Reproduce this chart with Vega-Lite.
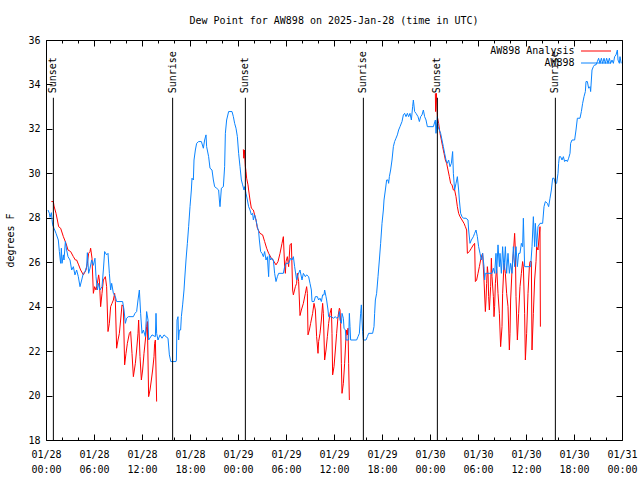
{
  "$schema": "https://vega.github.io/schema/vega-lite/v6.json",
  "width": 576,
  "height": 400,
  "autosize": {"type": "none"},
  "padding": {"left": 46, "top": 40, "right": 18, "bottom": 40},
  "title": {"text": "Dew Point for AW898 on 2025-Jan-28 (time in UTC)", "font": "DejaVu Sans Mono", "fontSize": 10, "fontWeight": "normal", "color": "#000", "anchor": "middle", "frame": "group", "baseline": "alphabetic", "offset": 1},
  "config": {
    "view": {"stroke": "#000", "strokeWidth": 1},
    "font": "DejaVu Sans Mono",
    "axis": {"labelFont": "DejaVu Sans Mono", "labelFontSize": 10, "labelColor": "#000", "tickColor": "#000", "domain": false, "grid": false, "titleFont": "DejaVu Sans Mono", "titleFontSize": 10, "titleFontWeight": "normal", "titleColor": "#000", "labelOverlap": false, "labelFlush": false, "labelBound": false},
    "legend": {"orient": "none", "legendX": 544.5, "legendY": 5.5, "symbolType": "M-3,0H3", "symbolSize": 100, "symbolStrokeWidth": 1, "labelFont": "DejaVu Sans Mono", "labelFontSize": 10, "labelColor": "#000", "labelAlign": "right", "labelOffset": -27, "rowPadding": 1, "padding": 0, "labelLimit": 0}
  },
  "datasets": {
    "events": [
      {"h": 0.92, "label": "Sunset"}, {"h": 15.83, "label": "Sunrise"},
      {"h": 24.92, "label": "Sunset"}, {"h": 39.67, "label": "Sunrise"},
      {"h": 48.92, "label": "Sunset"}, {"h": 63.67, "label": "Sunrise"}
    ],
    "analysis": [
      {"seg":1,"h":0.67,"dp":28.73},{"seg":1,"h":0.92,"dp":28.73},{"seg":1,"h":1.0,"dp":28.53},{"seg":1,"h":1.25,"dp":28.2},{"seg":1,"h":1.42,"dp":27.9},{"seg":1,"h":1.58,"dp":27.6},{"seg":1,"h":1.83,"dp":27.53},{"seg":1,"h":2.17,"dp":27.15},{"seg":1,"h":2.5,"dp":26.85},{"seg":1,"h":2.75,"dp":26.55},{"seg":1,"h":3.08,"dp":26.48},{"seg":1,"h":3.42,"dp":26.25},{"seg":1,"h":3.67,"dp":26.1},{"seg":1,"h":3.83,"dp":26.1},{"seg":1,"h":4.08,"dp":25.88},{"seg":1,"h":4.33,"dp":25.65},{"seg":1,"h":4.67,"dp":25.43},{"seg":1,"h":5.0,"dp":25.65},{"seg":1,"h":5.17,"dp":25.95},{"seg":1,"h":5.33,"dp":26.4},{"seg":1,"h":5.5,"dp":26.48},{"seg":1,"h":5.58,"dp":26.63},{"seg":1,"h":5.75,"dp":26.18},{"seg":1,"h":5.92,"dp":24.6},{"seg":1,"h":6.08,"dp":24.9},{"seg":1,"h":6.25,"dp":24.75},{"seg":1,"h":6.42,"dp":25.05},{"seg":1,"h":6.58,"dp":25.43},{"seg":1,"h":6.67,"dp":25.2},{"seg":1,"h":6.83,"dp":24.0},{"seg":1,"h":7.0,"dp":24.6},{"seg":1,"h":7.17,"dp":25.2},{"seg":1,"h":7.42,"dp":25.35},{"seg":1,"h":7.58,"dp":24.9},{"seg":1,"h":7.75,"dp":22.88},{"seg":1,"h":7.92,"dp":23.25},{"seg":1,"h":8.08,"dp":24.0},{"seg":1,"h":8.25,"dp":24.15},{"seg":1,"h":8.42,"dp":24.3},{"seg":1,"h":8.58,"dp":24.6},{"seg":1,"h":8.67,"dp":24.23},{"seg":1,"h":8.83,"dp":22.13},{"seg":1,"h":9.0,"dp":22.5},{"seg":1,"h":9.17,"dp":22.8},{"seg":1,"h":9.33,"dp":23.4},{"seg":1,"h":9.5,"dp":24.08},{"seg":1,"h":9.67,"dp":24.0},{"seg":1,"h":9.83,"dp":21.38},{"seg":1,"h":10.0,"dp":21.9},{"seg":1,"h":10.17,"dp":22.35},{"seg":1,"h":10.42,"dp":22.8},{"seg":1,"h":10.58,"dp":22.88},{"seg":1,"h":10.75,"dp":21.9},{"seg":1,"h":10.92,"dp":20.85},{"seg":1,"h":11.17,"dp":21.45},{"seg":1,"h":11.33,"dp":22.05},{"seg":1,"h":11.5,"dp":22.8},{"seg":1,"h":11.58,"dp":23.4},{"seg":1,"h":11.75,"dp":21.75},{"seg":1,"h":11.92,"dp":20.7},{"seg":1,"h":12.08,"dp":21.15},{"seg":1,"h":12.25,"dp":21.9},{"seg":1,"h":12.42,"dp":22.5},{"seg":1,"h":12.58,"dp":23.1},{"seg":1,"h":12.67,"dp":23.33},{"seg":1,"h":12.83,"dp":19.95},{"seg":1,"h":13.0,"dp":20.25},{"seg":1,"h":13.17,"dp":20.7},{"seg":1,"h":13.33,"dp":21.15},{"seg":1,"h":13.5,"dp":21.75},{"seg":1,"h":13.58,"dp":22.35},{"seg":1,"h":13.67,"dp":22.5},{"seg":1,"h":13.75,"dp":21.15},{"seg":1,"h":13.83,"dp":19.73},
      {"seg":2,"h":24.67,"dp":31.08},{"seg":2,"h":24.72,"dp":30.68},{"seg":2,"h":24.8,"dp":31.05},{"seg":2,"h":24.92,"dp":30.3},{"seg":2,"h":25.0,"dp":30.08},{"seg":2,"h":25.08,"dp":29.78},{"seg":2,"h":25.25,"dp":29.48},{"seg":2,"h":25.33,"dp":29.25},{"seg":2,"h":25.5,"dp":28.8},{"seg":2,"h":25.67,"dp":28.43},{"seg":2,"h":25.92,"dp":28.35},{"seg":2,"h":26.08,"dp":28.13},{"seg":2,"h":26.25,"dp":27.9},{"seg":2,"h":26.42,"dp":27.53},{"seg":2,"h":26.75,"dp":27.3},{"seg":2,"h":27.08,"dp":27.23},{"seg":2,"h":27.33,"dp":26.93},{"seg":2,"h":27.58,"dp":26.63},{"seg":2,"h":27.83,"dp":26.4},{"seg":2,"h":28.17,"dp":26.18},{"seg":2,"h":28.5,"dp":26.03},{"seg":2,"h":28.75,"dp":25.88},{"seg":2,"h":29.0,"dp":26.03},{"seg":2,"h":29.25,"dp":26.4},{"seg":2,"h":29.5,"dp":26.85},{"seg":2,"h":29.67,"dp":27.15},{"seg":2,"h":29.83,"dp":25.8},{"seg":2,"h":29.92,"dp":25.5},{"seg":2,"h":30.0,"dp":26.03},{"seg":2,"h":30.17,"dp":26.25},{"seg":2,"h":30.33,"dp":25.8},{"seg":2,"h":30.5,"dp":26.78},{"seg":2,"h":30.67,"dp":26.85},{"seg":2,"h":30.83,"dp":24.75},{"seg":2,"h":30.92,"dp":24.53},{"seg":2,"h":31.17,"dp":24.9},{"seg":2,"h":31.33,"dp":25.05},{"seg":2,"h":31.42,"dp":25.5},{"seg":2,"h":31.58,"dp":25.13},{"seg":2,"h":31.75,"dp":23.6},{"seg":2,"h":31.92,"dp":23.85},{"seg":2,"h":32.17,"dp":24.15},{"seg":2,"h":32.42,"dp":24.6},{"seg":2,"h":32.58,"dp":24.9},{"seg":2,"h":32.67,"dp":24.6},{"seg":2,"h":32.75,"dp":22.73},{"seg":2,"h":32.92,"dp":22.95},{"seg":2,"h":33.08,"dp":23.25},{"seg":2,"h":33.33,"dp":23.7},{"seg":2,"h":33.5,"dp":24.15},{"seg":2,"h":33.67,"dp":23.85},{"seg":2,"h":33.83,"dp":22.65},{"seg":2,"h":34.0,"dp":21.9},{"seg":2,"h":34.08,"dp":22.43},{"seg":2,"h":34.25,"dp":22.8},{"seg":2,"h":34.42,"dp":23.4},{"seg":2,"h":34.58,"dp":24.15},{"seg":2,"h":34.67,"dp":23.7},{"seg":2,"h":34.83,"dp":21.6},{"seg":2,"h":35.0,"dp":22.05},{"seg":2,"h":35.17,"dp":22.65},{"seg":2,"h":35.33,"dp":23.25},{"seg":2,"h":35.5,"dp":23.7},{"seg":2,"h":35.67,"dp":23.93},{"seg":2,"h":35.75,"dp":22.8},{"seg":2,"h":35.83,"dp":20.93},{"seg":2,"h":36.0,"dp":21.3},{"seg":2,"h":36.17,"dp":22.05},{"seg":2,"h":36.33,"dp":22.8},{"seg":2,"h":36.5,"dp":23.55},{"seg":2,"h":36.67,"dp":23.93},{"seg":2,"h":36.75,"dp":23.85},{"seg":2,"h":36.83,"dp":23.25},{"seg":2,"h":36.92,"dp":21.45},{"seg":2,"h":37.0,"dp":20.1},{"seg":2,"h":37.17,"dp":20.55},{"seg":2,"h":37.33,"dp":21.45},{"seg":2,"h":37.5,"dp":22.65},{"seg":2,"h":37.58,"dp":22.95},{"seg":2,"h":37.67,"dp":22.73},{"seg":2,"h":37.75,"dp":23.03},{"seg":2,"h":37.83,"dp":21.45},{"seg":2,"h":37.92,"dp":19.8},
      {"seg":3,"h":48.67,"dp":33.6},{"seg":3,"h":48.7,"dp":32.78},{"seg":3,"h":48.8,"dp":33.6},{"seg":3,"h":48.92,"dp":32.55},{"seg":3,"h":49.08,"dp":32.25},{"seg":3,"h":49.25,"dp":31.8},{"seg":3,"h":49.42,"dp":31.5},{"seg":3,"h":49.58,"dp":31.2},{"seg":3,"h":49.75,"dp":30.9},{"seg":3,"h":49.92,"dp":30.6},{"seg":3,"h":50.08,"dp":30.45},{"seg":3,"h":50.25,"dp":30.15},{"seg":3,"h":50.42,"dp":29.85},{"seg":3,"h":50.58,"dp":29.55},{"seg":3,"h":50.75,"dp":29.48},{"seg":3,"h":50.92,"dp":29.25},{"seg":3,"h":51.08,"dp":29.25},{"seg":3,"h":51.25,"dp":28.95},{"seg":3,"h":51.42,"dp":28.5},{"seg":3,"h":51.58,"dp":28.2},{"seg":3,"h":51.75,"dp":28.05},{"seg":3,"h":52.0,"dp":27.9},{"seg":3,"h":52.25,"dp":27.75},{"seg":3,"h":52.42,"dp":27.6},{"seg":3,"h":52.58,"dp":27.45},{"seg":3,"h":52.67,"dp":26.4},{"seg":3,"h":52.92,"dp":26.48},{"seg":3,"h":53.17,"dp":26.63},{"seg":3,"h":53.42,"dp":26.78},{"seg":3,"h":53.58,"dp":26.85},{"seg":3,"h":53.67,"dp":25.13},{"seg":3,"h":53.83,"dp":25.2},{"seg":3,"h":54.0,"dp":25.5},{"seg":3,"h":54.17,"dp":25.8},{"seg":3,"h":54.33,"dp":26.1},{"seg":3,"h":54.5,"dp":26.33},{"seg":3,"h":54.58,"dp":26.4},{"seg":3,"h":54.75,"dp":25.2},{"seg":3,"h":54.92,"dp":23.78},{"seg":3,"h":55.0,"dp":24.3},{"seg":3,"h":55.08,"dp":25.05},{"seg":3,"h":55.17,"dp":25.8},{"seg":3,"h":55.25,"dp":25.5},{"seg":3,"h":55.33,"dp":24.45},{"seg":3,"h":55.42,"dp":23.85},{"seg":3,"h":55.58,"dp":24.9},{"seg":3,"h":55.67,"dp":26.18},{"seg":3,"h":55.75,"dp":25.35},{"seg":3,"h":55.92,"dp":24.45},{"seg":3,"h":56.0,"dp":23.55},{"seg":3,"h":56.08,"dp":24.0},{"seg":3,"h":56.17,"dp":25.05},{"seg":3,"h":56.33,"dp":25.8},{"seg":3,"h":56.5,"dp":24.6},{"seg":3,"h":56.67,"dp":23.7},{"seg":3,"h":56.83,"dp":22.2},{"seg":3,"h":57.0,"dp":23.1},{"seg":3,"h":57.08,"dp":24.6},{"seg":3,"h":57.25,"dp":25.95},{"seg":3,"h":57.42,"dp":25.5},{"seg":3,"h":57.58,"dp":24.6},{"seg":3,"h":57.75,"dp":24.0},{"seg":3,"h":57.92,"dp":22.05},{"seg":3,"h":58.0,"dp":22.8},{"seg":3,"h":58.08,"dp":24.3},{"seg":3,"h":58.25,"dp":25.65},{"seg":3,"h":58.42,"dp":26.4},{"seg":3,"h":58.58,"dp":27.3},{"seg":3,"h":58.67,"dp":26.55},{"seg":3,"h":58.75,"dp":24.45},{"seg":3,"h":58.92,"dp":22.5},{"seg":3,"h":59.08,"dp":23.7},{"seg":3,"h":59.25,"dp":24.9},{"seg":3,"h":59.42,"dp":25.5},{"seg":3,"h":59.58,"dp":26.03},{"seg":3,"h":59.67,"dp":25.8},{"seg":3,"h":59.83,"dp":23.7},{"seg":3,"h":59.92,"dp":21.6},{"seg":3,"h":60.08,"dp":22.8},{"seg":3,"h":60.25,"dp":24.6},{"seg":3,"h":60.42,"dp":25.8},{"seg":3,"h":60.5,"dp":26.03},{"seg":3,"h":60.67,"dp":26.03},{"seg":3,"h":60.75,"dp":22.05},{"seg":3,"h":60.92,"dp":23.7},{"seg":3,"h":61.08,"dp":25.2},{"seg":3,"h":61.25,"dp":26.03},{"seg":3,"h":61.33,"dp":26.7},{"seg":3,"h":61.5,"dp":26.55},{"seg":3,"h":61.75,"dp":27.6},{"seg":3,"h":61.8,"dp":23.1}
    ],
    "obs": [
      {"h":0.25,"dp":28.35},{"h":0.42,"dp":28.2},{"h":0.5,"dp":28.02},{"h":0.67,"dp":28.23},{"h":0.75,"dp":27.93},{"h":0.83,"dp":27.68},{"h":1.0,"dp":27.53},{"h":1.25,"dp":27.3},{"h":1.54,"dp":27.0},{"h":1.67,"dp":26.48},{"h":1.83,"dp":25.95},{"h":1.92,"dp":26.63},{"h":2.0,"dp":25.95},{"h":2.17,"dp":26.33},{"h":2.25,"dp":26.1},{"h":2.42,"dp":26.93},{"h":2.58,"dp":26.55},{"h":2.75,"dp":26.25},{"h":3.0,"dp":26.1},{"h":3.21,"dp":25.65},{"h":3.42,"dp":25.8},{"h":3.62,"dp":25.43},{"h":3.83,"dp":25.65},{"h":4.04,"dp":25.35},{"h":4.25,"dp":24.9},{"h":4.46,"dp":25.2},{"h":4.67,"dp":25.5},{"h":4.88,"dp":25.58},{"h":5.08,"dp":25.8},{"h":5.17,"dp":26.43},{"h":5.33,"dp":25.5},{"h":5.5,"dp":25.73},{"h":5.71,"dp":26.1},{"h":5.92,"dp":25.86},{"h":6.12,"dp":26.18},{"h":6.25,"dp":25.35},{"h":6.42,"dp":24.75},{"h":6.58,"dp":25.05},{"h":6.75,"dp":24.75},{"h":7.0,"dp":24.9},{"h":7.17,"dp":25.65},{"h":7.33,"dp":26.48},{"h":7.58,"dp":26.33},{"h":7.75,"dp":26.4},{"h":7.92,"dp":25.5},{"h":8.08,"dp":24.75},{"h":8.21,"dp":25.05},{"h":8.42,"dp":24.6},{"h":8.67,"dp":24.45},{"h":8.83,"dp":24.23},{"h":9.58,"dp":24.23},{"h":9.75,"dp":23.85},{"h":9.92,"dp":23.25},{"h":10.08,"dp":23.48},{"h":10.29,"dp":23.55},{"h":10.92,"dp":23.55},{"h":11.12,"dp":23.7},{"h":11.33,"dp":23.78},{"h":11.5,"dp":24.3},{"h":11.67,"dp":24.75},{"h":11.83,"dp":23.7},{"h":12.0,"dp":22.8},{"h":12.17,"dp":22.95},{"h":12.42,"dp":22.65},{"h":12.58,"dp":23.78},{"h":12.75,"dp":23.4},{"h":12.83,"dp":22.5},{"h":13.25,"dp":22.73},{"h":13.67,"dp":22.65},{"h":13.75,"dp":23.7},{"h":13.83,"dp":22.8},{"h":14.0,"dp":22.5},{"h":14.25,"dp":22.73},{"h":14.5,"dp":22.58},{"h":14.75,"dp":22.73},{"h":15.0,"dp":22.65},{"h":15.25,"dp":22.58},{"h":15.42,"dp":21.83},{"h":15.6,"dp":21.53},{"h":16.25,"dp":21.53},
      {"h":16.3,"dp":21.6},{"h":16.38,"dp":23.4},{"h":16.5,"dp":23.55},{"h":16.58,"dp":22.5},{"h":16.67,"dp":22.95},{"h":16.83,"dp":22.95},{"h":16.92,"dp":23.55},{"h":17.08,"dp":24.08},{"h":17.25,"dp":24.75},{"h":17.33,"dp":25.2},{"h":17.5,"dp":26.1},{"h":17.67,"dp":26.85},{"h":17.83,"dp":27.6},{"h":18.0,"dp":28.5},{"h":18.17,"dp":29.25},{"h":18.25,"dp":29.78},{"h":18.42,"dp":29.7},{"h":18.5,"dp":30.6},{"h":18.67,"dp":31.05},{"h":18.83,"dp":31.35},{"h":19.08,"dp":31.43},{"h":19.42,"dp":31.43},{"h":19.67,"dp":31.13},{"h":19.83,"dp":31.5},{"h":20.0,"dp":31.73},{"h":20.08,"dp":31.2},{"h":20.33,"dp":30.75},{"h":20.5,"dp":30.23},{"h":20.75,"dp":30.15},{"h":20.92,"dp":29.7},{"h":21.08,"dp":29.4},{"h":21.33,"dp":29.33},{"h":21.58,"dp":29.25},{"h":21.67,"dp":28.8},{"h":21.75,"dp":28.5},{"h":21.92,"dp":29.33},{"h":22.17,"dp":29.4},{"h":22.33,"dp":30.3},{"h":22.42,"dp":31.8},{"h":22.58,"dp":32.4},{"h":22.83,"dp":32.78},{"h":23.25,"dp":32.78},{"h":23.42,"dp":32.55},{"h":23.58,"dp":32.25},{"h":23.75,"dp":32.03},{"h":23.92,"dp":31.65},{"h":24.08,"dp":30.9},{"h":24.25,"dp":30.3},{"h":24.42,"dp":29.7},{"h":24.58,"dp":29.48},{"h":24.75,"dp":29.25},{"h":24.83,"dp":29.4},{"h":25.0,"dp":29.1},{"h":25.17,"dp":28.8},{"h":25.33,"dp":28.5},{"h":25.5,"dp":28.35},{"h":25.67,"dp":28.13},{"h":25.83,"dp":28.2},{"h":25.92,"dp":27.9},{"h":26.08,"dp":28.13},{"h":26.25,"dp":27.9},{"h":26.42,"dp":27.6},{"h":26.58,"dp":27.38},{"h":26.67,"dp":27.0},{"h":26.83,"dp":26.48},{"h":27.0,"dp":26.4},{"h":27.17,"dp":26.25},{"h":27.33,"dp":26.48},{"h":27.5,"dp":26.1},{"h":27.67,"dp":26.25},{"h":27.83,"dp":25.35},{"h":27.92,"dp":26.33},{"h":28.08,"dp":26.1},{"h":28.25,"dp":26.18},{"h":28.42,"dp":26.1},{"h":28.58,"dp":25.5},{"h":28.75,"dp":25.13},{"h":28.92,"dp":25.35},{"h":29.08,"dp":25.5},{"h":29.67,"dp":25.5},{"h":29.83,"dp":25.8},{"h":30.0,"dp":25.95},{"h":30.33,"dp":25.95},{"h":30.58,"dp":26.18},{"h":30.75,"dp":26.1},{"h":30.92,"dp":26.25},{"h":31.08,"dp":25.8},
      {"h":31.33,"dp":25.2},{"h":31.5,"dp":25.43},{"h":31.75,"dp":25.65},{"h":32.0,"dp":25.2},{"h":32.17,"dp":25.5},{"h":32.42,"dp":25.35},{"h":32.58,"dp":25.43},{"h":32.83,"dp":25.35},{"h":33.0,"dp":25.05},{"h":33.17,"dp":24.75},{"h":33.25,"dp":24.23},{"h":33.5,"dp":24.23},{"h":33.67,"dp":24.45},{"h":33.92,"dp":24.45},{"h":34.08,"dp":24.3},{"h":34.25,"dp":24.38},{"h":34.42,"dp":24.23},{"h":34.58,"dp":24.53},{"h":34.75,"dp":24.53},{"h":34.83,"dp":24.75},{"h":35.0,"dp":24.45},{"h":35.08,"dp":24.3},{"h":35.25,"dp":23.85},{"h":35.33,"dp":23.55},{"h":35.67,"dp":23.55},{"h":35.92,"dp":23.48},{"h":36.17,"dp":23.55},{"h":36.33,"dp":23.48},{"h":36.58,"dp":23.55},{"h":36.67,"dp":23.78},{"h":36.75,"dp":23.4},{"h":36.92,"dp":23.25},{"h":37.0,"dp":23.7},{"h":37.17,"dp":23.48},{"h":37.25,"dp":23.03},{"h":37.42,"dp":22.95},{"h":37.5,"dp":22.5},{"h":37.83,"dp":22.5},{"h":37.92,"dp":23.7},{"h":38.0,"dp":23.1},{"h":38.08,"dp":22.5},{"h":38.83,"dp":22.5},{"h":39.0,"dp":22.65},{"h":39.17,"dp":22.8},{"h":39.33,"dp":23.7},{"h":39.42,"dp":24.08},{"h":39.5,"dp":23.4},{"h":39.58,"dp":22.88},{"h":39.67,"dp":22.5},{"h":40.0,"dp":22.5},{"h":40.17,"dp":22.65},{"h":40.33,"dp":22.8},
      {"h":40.5,"dp":22.8},{"h":40.83,"dp":22.8},{"h":41.0,"dp":23.1},{"h":41.08,"dp":23.7},{"h":41.17,"dp":24.3},{"h":41.33,"dp":24.6},{"h":41.5,"dp":25.35},{"h":41.67,"dp":26.1},{"h":41.83,"dp":26.85},{"h":42.0,"dp":27.75},{"h":42.17,"dp":28.35},{"h":42.25,"dp":28.8},{"h":42.42,"dp":29.25},{"h":42.58,"dp":29.7},{"h":42.75,"dp":29.7},{"h":42.83,"dp":29.55},{"h":42.92,"dp":29.85},{"h":43.08,"dp":30.15},{"h":43.25,"dp":30.6},{"h":43.42,"dp":31.2},{"h":43.58,"dp":31.43},{"h":43.75,"dp":31.58},{"h":43.92,"dp":31.73},{"h":44.08,"dp":31.95},{"h":44.25,"dp":32.1},{"h":44.5,"dp":32.33},{"h":44.67,"dp":32.63},{"h":44.83,"dp":32.7},{"h":45.0,"dp":32.55},{"h":45.17,"dp":32.7},{"h":45.33,"dp":32.55},{"h":45.5,"dp":32.7},{"h":45.67,"dp":32.4},{"h":45.83,"dp":33.0},{"h":45.92,"dp":33.3},{"h":46.08,"dp":32.78},{"h":46.25,"dp":32.7},{"h":46.5,"dp":32.55},{"h":46.67,"dp":32.33},{"h":46.83,"dp":32.55},{"h":47.0,"dp":32.63},{"h":47.17,"dp":32.85},{"h":47.33,"dp":32.55},{"h":47.5,"dp":32.4},{"h":47.67,"dp":32.1},{"h":48.42,"dp":32.1},{"h":48.67,"dp":32.4},{"h":48.75,"dp":31.8},{"h":48.92,"dp":32.55},{"h":49.0,"dp":32.1},{"h":49.17,"dp":31.95},{"h":49.33,"dp":31.8},{"h":49.5,"dp":31.5},{"h":49.67,"dp":31.2},{"h":49.83,"dp":30.9},{"h":50.0,"dp":30.6},{"h":50.17,"dp":30.45},{"h":50.33,"dp":30.6},{"h":50.5,"dp":30.3},{"h":50.67,"dp":30.45},{"h":50.83,"dp":30.98},{"h":50.92,"dp":30.0},{"h":51.08,"dp":29.25},{"h":51.25,"dp":29.55},{"h":51.42,"dp":29.85},{"h":51.58,"dp":29.25},{"h":51.67,"dp":28.8},{"h":51.83,"dp":28.2},{"h":52.0,"dp":28.05},{"h":52.17,"dp":27.98},{"h":52.5,"dp":27.98},{"h":52.75,"dp":27.9},{"h":52.83,"dp":27.45},{"h":53.0,"dp":26.85},{"h":53.17,"dp":27.0},{"h":53.42,"dp":27.15},{"h":53.58,"dp":27.3},{"h":53.75,"dp":27.45},{"h":53.92,"dp":27.15},{"h":54.08,"dp":26.7},{"h":54.25,"dp":26.4},{"h":54.42,"dp":26.1},{"h":54.58,"dp":26.4},{"h":54.75,"dp":25.8},{"h":54.83,"dp":25.2},{"h":54.92,"dp":25.5},{"h":55.75,"dp":25.5},{"h":55.92,"dp":25.73},{"h":56.08,"dp":25.5},{"h":56.25,"dp":26.4},{"h":56.33,"dp":25.5},{"h":56.5,"dp":26.78},{"h":56.67,"dp":25.8},{"h":56.75,"dp":26.4},{"h":56.92,"dp":25.5},{"h":57.08,"dp":26.7},{"h":57.25,"dp":25.65},{"h":57.42,"dp":26.7},{"h":57.58,"dp":25.5},{"h":57.75,"dp":26.4},{"h":57.92,"dp":25.5},{"h":58.08,"dp":25.95},{"h":58.25,"dp":25.5},{"h":58.42,"dp":26.7},{"h":58.58,"dp":25.8},{"h":58.75,"dp":26.7},{"h":58.92,"dp":25.8},{"h":59.08,"dp":26.4},{"h":59.25,"dp":26.4},{"h":59.42,"dp":26.85},{"h":59.58,"dp":26.7},{"h":59.67,"dp":27.98},{"h":59.83,"dp":25.8},{"h":60.58,"dp":25.8},{"h":60.75,"dp":26.7},{"h":60.92,"dp":28.05},{"h":61.08,"dp":26.7},{"h":61.17,"dp":27.75},{"h":61.33,"dp":26.7},{"h":61.5,"dp":27.6},{"h":61.75,"dp":27.75},{"h":62.08,"dp":27.75},{"h":62.25,"dp":28.5},{"h":62.42,"dp":28.73},{"h":62.67,"dp":28.65},{"h":62.83,"dp":28.5},{"h":63.0,"dp":28.88},{"h":63.17,"dp":29.25},{"h":63.33,"dp":29.78},{"h":63.5,"dp":29.78},{"h":63.67,"dp":29.55},{"h":63.83,"dp":29.55},{"h":64.0,"dp":30.0},{"h":64.08,"dp":30.45},{"h":64.17,"dp":30.75},{"h":64.33,"dp":30.75},{"h":64.5,"dp":30.6},{"h":64.67,"dp":30.75},{"h":64.83,"dp":30.53},{"h":65.0,"dp":30.6},{"h":65.17,"dp":30.53},{"h":65.33,"dp":30.68},{"h":65.5,"dp":30.9},{"h":65.58,"dp":31.35},{"h":65.75,"dp":31.5},{"h":66.08,"dp":31.5},{"h":66.25,"dp":31.95},{"h":66.42,"dp":32.48},{"h":66.75,"dp":32.48},{"h":66.92,"dp":32.78},{"h":67.08,"dp":33.15},{"h":67.25,"dp":33.45},{"h":67.42,"dp":33.68},{"h":67.5,"dp":34.13},{"h":67.67,"dp":34.13},{"h":67.83,"dp":33.83},{"h":68.0,"dp":33.9},{"h":68.08,"dp":33.68},{"h":68.25,"dp":34.65},{"h":68.42,"dp":34.8},{"h":68.58,"dp":34.88},{"h":68.75,"dp":34.88},{"h":68.92,"dp":35.03},{"h":69.08,"dp":35.18},{"h":69.25,"dp":34.95},{"h":69.42,"dp":35.18},{"h":69.58,"dp":34.95},{"h":69.75,"dp":35.18},{"h":69.92,"dp":34.95},{"h":70.08,"dp":35.18},{"h":70.25,"dp":34.95},{"h":70.42,"dp":35.18},{"h":70.58,"dp":34.95},{"h":70.75,"dp":35.1},{"h":70.92,"dp":34.95},{"h":71.08,"dp":35.25},{"h":71.25,"dp":35.33},{"h":71.42,"dp":35.55},{"h":71.5,"dp":35.1},{"h":71.67,"dp":34.95},{"h":71.75,"dp":35.25},{"h":71.9,"dp":34.95}
    ]
  },
  "layer": [
    {
      "data": {"name": "analysis"},
      "mark": {"type": "line", "strokeWidth": 1, "interpolate": "linear"},
      "encoding": {
        "x": {"field": "h", "type": "quantitative", "scale": {"domain": [0, 72], "nice": false, "zero": false},
          "axis": {"orient": "bottom", "title": null, "values": [0,2,4,6,8,10,12,14,16,18,20,22,24,26,28,30,32,34,36,38,40,42,44,46,48,50,52,54,56,58,60,62,64,66,68,70,72],
            "labelExpr": "datum.value % 6 == 0 ? ['01/' + (28 + floor(datum.value / 24)), (datum.value % 24 < 10 ? '0' : '') + (datum.value % 24) + ':00'] : ''",
            "labelBaseline": "top", "labelLineHeight": 15, "labelPadding": 15,
            "tickSize": {"condition": {"test": "datum.value % 6 == 0", "value": -6}, "value": -3}}},
        "y": {"field": "dp", "type": "quantitative", "scale": {"domain": [18, 36], "nice": false, "zero": false},
          "axis": {"orient": "left", "title": "degrees F", "values": [18,20,22,24,26,28,30,32,34,36], "tickSize": -6, "labelPadding": 12, "titlePadding": 12}},
        "detail": {"field": "seg", "type": "nominal"},
        "color": {"datum": "AW898 Analysis", "type": "nominal", "scale": {"domain": ["AW898 Analysis", "AW898"], "range": ["#ff0000", "#0a84ff"]},
          "legend": {"title": null, "encode": {"symbols": {"update": {"stroke": {"scale": "color", "field": "value"}, "fill": {"value": "transparent"}, "strokeWidth": {"value": 1}}}}}}
      }
    },
    {
      "data": {"name": "obs"},
      "mark": {"type": "line", "strokeWidth": 1, "interpolate": "linear"},
      "encoding": {
        "x": {"field": "h", "type": "quantitative",
          "axis": {"orient": "top", "title": null, "labels": false, "values": [0,2,4,6,8,10,12,14,16,18,20,22,24,26,28,30,32,34,36,38,40,42,44,46,48,50,52,54,56,58,60,62,64,66,68,70,72],
            "tickSize": {"condition": {"test": "datum.value % 6 == 0", "value": -6}, "value": -3}}},
        "y": {"field": "dp", "type": "quantitative",
          "axis": {"orient": "right", "title": null, "labels": false, "values": [18,20,22,24,26,28,30,32,34,36], "tickSize": -6}},
        "color": {"datum": "AW898", "type": "nominal", "legend": {"title": null}}
      }
    },
    {
      "data": {"name": "events"},
      "mark": {"type": "rule", "color": "#000", "strokeWidth": 1},
      "encoding": {
        "x": {"field": "h", "type": "quantitative", "axis": null},
        "y": {"datum": 18, "axis": null},
        "y2": {"datum": 33.4}
      }
    },
    {
      "data": {"name": "events"},
      "mark": {"type": "text", "angle": 270, "align": "left", "baseline": "middle", "font": "DejaVu Sans Mono", "fontSize": 10, "color": "#000"},
      "encoding": {
        "x": {"field": "h", "type": "quantitative", "axis": null},
        "y": {"datum": 33.6, "axis": null},
        "text": {"field": "label"}
      }
    }
  ],
  "resolve": {"axis": {"x": "independent", "y": "independent"}}
}
